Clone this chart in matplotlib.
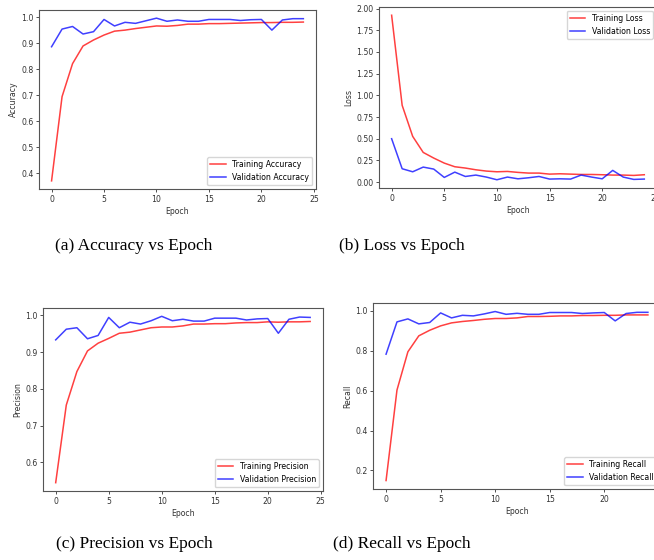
import numpy as np
import matplotlib
matplotlib.use("Agg")
import matplotlib.pyplot as plt

epochs = list(range(25))

train_acc = [0.371, 0.695, 0.822, 0.890, 0.913, 0.932, 0.947, 0.951, 0.957, 0.962,
             0.967, 0.966, 0.969, 0.974, 0.974, 0.976, 0.976, 0.977, 0.978, 0.979,
             0.980, 0.980, 0.981, 0.981, 0.982]
val_acc = [0.887, 0.955, 0.965, 0.936, 0.945, 0.992, 0.967, 0.981, 0.977, 0.987,
           0.997, 0.985, 0.990, 0.985, 0.985, 0.992, 0.992, 0.992, 0.988, 0.991,
           0.992, 0.951, 0.990, 0.995, 0.995]

train_loss = [1.923, 0.885, 0.527, 0.342, 0.277, 0.219, 0.177, 0.162, 0.142, 0.127,
              0.119, 0.123, 0.112, 0.104, 0.104, 0.092, 0.096, 0.092, 0.088, 0.088,
              0.085, 0.081, 0.081, 0.077, 0.085]
val_loss = [0.500, 0.154, 0.119, 0.173, 0.150, 0.054, 0.115, 0.065, 0.081, 0.058,
            0.027, 0.058, 0.038, 0.050, 0.065, 0.035, 0.038, 0.035, 0.081, 0.058,
            0.038, 0.135, 0.058, 0.031, 0.035]

train_prec = [0.545, 0.756, 0.847, 0.903, 0.924, 0.937, 0.951, 0.954, 0.960, 0.966,
              0.968, 0.968, 0.971, 0.976, 0.976, 0.977, 0.977, 0.979, 0.980, 0.980,
              0.982, 0.981, 0.982, 0.982, 0.983]
val_prec = [0.933, 0.962, 0.966, 0.936, 0.945, 0.994, 0.966, 0.981, 0.976, 0.985,
            0.997, 0.985, 0.989, 0.984, 0.984, 0.992, 0.992, 0.992, 0.987, 0.990,
            0.991, 0.951, 0.989, 0.995, 0.994]

train_rec = [0.149, 0.603, 0.795, 0.875, 0.903, 0.925, 0.940, 0.947, 0.952, 0.958,
             0.962, 0.962, 0.965, 0.972, 0.972, 0.973, 0.975, 0.975, 0.977, 0.977,
             0.978, 0.978, 0.980, 0.980, 0.980]
val_rec = [0.783, 0.945, 0.960, 0.935, 0.942, 0.990, 0.965, 0.978, 0.975, 0.985,
           0.997, 0.983, 0.988, 0.983, 0.983, 0.992, 0.992, 0.992, 0.987, 0.990,
           0.992, 0.950, 0.987, 0.993, 0.993]

panels = [
    # (position, train, val, name, legend loc, caption, caption xy)
    ([0.0596, 0.6625, 0.4235, 0.3196], train_acc, val_acc, "Accuracy", "lower right",
     "(a) Accuracy vs Epoch", (0.205, 0.561)),
    ([0.5795, 0.6643, 0.4250, 0.3232], train_loss, val_loss, "Loss", "upper right",
     "(b) Loss vs Epoch", (0.615, 0.561)),
    ([0.0657, 0.1232, 0.4280, 0.3268], train_prec, val_prec, "Precision", "lower right",
     "(c) Precision vs Epoch", (0.205, 0.029)),
    ([0.5703, 0.1268, 0.4404, 0.3320], train_rec, val_rec, "Recall", "lower right",
     "(d) Recall vs Epoch", (0.615, 0.029)),
]

# the original plots were drawn at default size and shrunk, so everything is ~0.56x
fs = 5.6

fig = plt.figure(figsize=(6.54, 5.6), dpi=100)

for pos, tr, va, name, loc, cap, cxy in panels:
    ax = fig.add_axes(pos)
    ax.plot(epochs, tr, color="red", alpha=0.75, lw=1.1, label="Training " + name)
    ax.plot(epochs, va, color="blue", alpha=0.75, lw=1.1, label="Validation " + name)
    ax.set_xlabel("Epoch", fontsize=fs, color="#333333", labelpad=2.2)
    ax.set_ylabel(name, fontsize=fs, color="#333333", labelpad=2.2)
    ax.set_xticks([0, 5, 10, 15, 20, 25])
    ax.tick_params(labelsize=fs, colors="#333333", length=2, width=0.6, pad=2)
    for s in ax.spines.values():
        s.set_color("#555555")
        s.set_linewidth(0.8)
    ax.legend(loc=loc, fontsize=fs)
    fig.text(cxy[0], cxy[1], cap, ha="center", va="center",
             family="Liberation Serif", fontsize=12.5)

fig.savefig("out.png", dpi=100)
